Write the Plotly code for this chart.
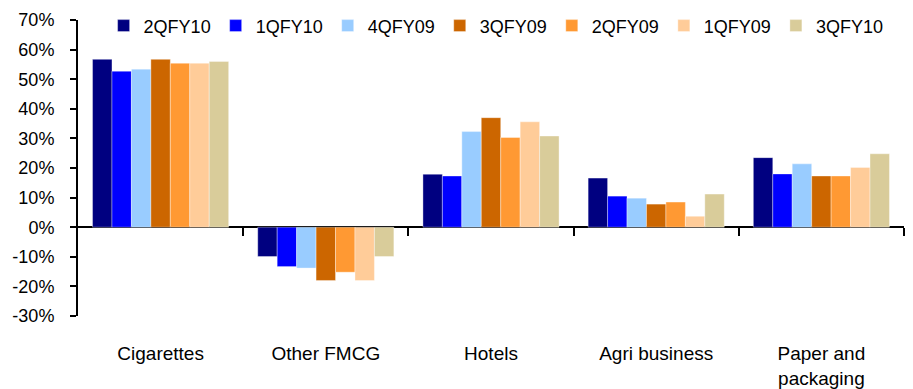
import plotly.graph_objects as go

categories = ["Cigarettes", "Other FMCG", "Hotels", "Agri business", "Paper and<br>packaging"]
series_names = ["2QFY10", "1QFY10", "4QFY09", "3QFY09", "2QFY09", "1QFY09", "3QFY10"]
values_2qfy10 = [56.7, -9.9, 17.9, 16.6, 23.5]
values_1qfy10 = [52.7, -13.3, 17.3, 10.5, 18.0]
values_4qfy09 = [53.4, -13.8, 32.3, 9.8, 21.4]
values_3qfy09 = [56.7, -18.0, 37.0, 7.8, 17.3]
values_2qfy09 = [55.4, -15.2, 30.3, 8.5, 17.3]
values_1qfy09 = [55.4, -18.0, 35.6, 3.7, 20.2]
values_3qfy10 = [56.0, -9.9, 30.8, 11.2, 24.8]
series_values = [values_2qfy10, values_1qfy10, values_4qfy09, values_3qfy09,
                 values_2qfy09, values_1qfy09, values_3qfy10]
colors = ["#000080", "#0000FF", "#99CCFF", "#CC6600", "#FF9933", "#FFCC99", "#D9CC9A"]
y_ticks = [-30, -20, -10, 0, 10, 20, 30, 40, 50, 60, 70]
y_tick_labels = [f"{v}%" for v in y_ticks]

FONT = "Liberation Sans, Arial, sans-serif"

fig = go.Figure()
for name, vals, col in zip(series_names, series_values, colors):
    fig.add_trace(go.Bar(
        name=name, x=list(range(len(categories))), y=vals,
        marker=dict(color=col, line=dict(color="rgba(255,255,255,0.45)", width=0.8)),
    ))

# invisible helper trace so the boundary-tick axis exists
fig.add_trace(go.Scatter(x=[-0.5, 4.5], y=[0, 0], xaxis="x2", mode="lines",
                         line=dict(width=0), showlegend=False, hoverinfo="skip"))

fig.update_layout(
    width=913, height=389,
    margin=dict(l=78, r=9, t=20, b=73, autoexpand=False),
    paper_bgcolor="white", plot_bgcolor="white",
    barmode="group", bargap=0.176, bargroupgap=0,
    font=dict(family=FONT, size=18, color="#000000"),
    showlegend=True,
    legend=dict(orientation="h", x=0.031, y=0.98, xanchor="left", yanchor="middle",
                bgcolor="rgba(0,0,0,0)", font=dict(size=18), itemwidth=30,
                traceorder="normal"),
    xaxis=dict(
        range=[-0.5, 4.5], tickmode="array", tickvals=list(range(len(categories))),
        ticktext=categories, showline=False, ticks="", showgrid=False,
        zeroline=False, ticklabelstandoff=24, tickfont=dict(size=19),
        automargin=False,
    ),
    xaxis2=dict(
        range=[-0.5, 4.5], overlaying="x", anchor="free", position=0.3,
        tickmode="array", tickvals=[0.5, 1.5, 2.5, 3.5, 4.5], showticklabels=False,
        ticks="outside", ticklen=8, tickwidth=2, tickcolor="black",
        showline=False, showgrid=False, zeroline=False, automargin=False,
    ),
    yaxis=dict(
        range=[-30, 70], tickmode="array", tickvals=y_ticks, ticktext=y_tick_labels,
        showline=True, linecolor="black", linewidth=2, ticks="outside",
        ticklen=6, tickwidth=2, tickcolor="black", showgrid=False,
        zeroline=True, zerolinecolor="black", zerolinewidth=2,
        ticklabelstandoff=12, tickfont=dict(size=18), automargin=False,
    ),
)

fig.write_html("out.html")
